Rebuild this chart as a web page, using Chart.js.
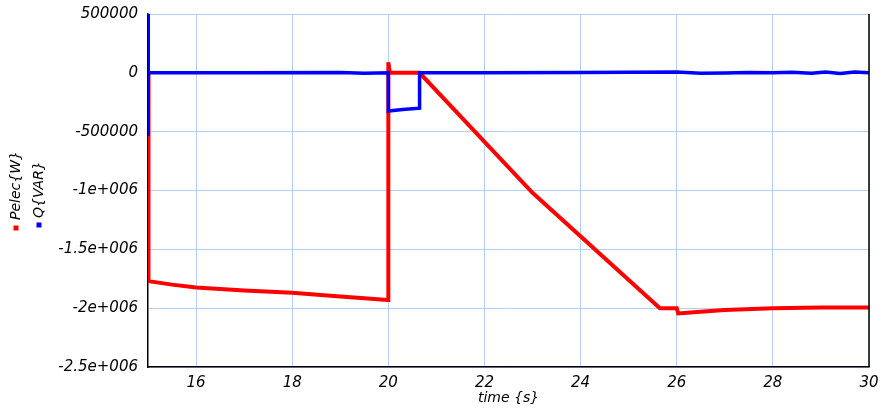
<!DOCTYPE html>
<html>
<head>
<meta charset="utf-8">
<script src="https://cdn.jsdelivr.net/npm/chart.js@4/dist/chart.umd.min.js"></script>
<style>
    html, body { margin: 0; padding: 0; background: #fff; }
    #wrap { width: 883px; height: 409px; }
</style>
</head>
<body>
<div id="wrap"><canvas id="chart"></canvas></div>
<script>
    // 数据：时间 (s) 与有功功率 Pelec{W}
    const timeP = [15, 15.01, 15.5, 16, 17, 18, 19, 19.5, 19.98, 20.0, 20.0, 20.03, 20.65, 23.0, 25.65, 26.0, 26.03, 26.5, 27, 28, 29, 30];
    const pelec = [0, -1.77e6, -1.80e6, -1.825e6, -1.85e6, -1.87e6, -1.90e6, -1.915e6, -1.93e6, -1.93e6, 90000, 0, 0, -1.02e6, -2.0e6, -2.0e6, -2.045e6, -2.03e6, -2.015e6, -2.0e6, -1.995e6, -1.995e6];

    // 数据：时间 (s) 与无功功率 Q{VAR}
    const timeQ = [15, 15, 15.01, 17, 19, 19.5, 20.0, 20.0, 20.3, 20.65, 20.65, 22, 24, 25, 26, 26.5, 27, 27.5, 28, 28.4, 28.8, 29.1, 29.4, 29.7, 30];
    const qvar = [-520000, 520000, 0, 0, 2000, -3000, 0, -325000, -312000, -300000, 0, 0, 2000, 4000, 8000, -3000, -1000, 2000, 0, 5000, -4000, 6000, -5000, 7000, 0];

    // 坐标轴刻度
    const xTicks = [16, 18, 20, 22, 24, 26, 28, 30];
    const yTicks = [500000, 0, -500000, -1000000, -1500000, -2000000, -2500000];
    const yTickLabels = ['500000', '0', '-500000', '-1e+006', '-1.5e+006', '-2e+006', '-2.5e+006'];

    const seriesNames = ['Pelec{W}', 'Q{VAR}'];
    const seriesColors = ['#ff0000', '#0000ff'];

    const GRID = '#b3d0f0';
    const FONT = 'DejaVu Sans';

    function toPoints(xs, ys) {
        return xs.map((x, i) => ({ x: x, y: ys[i] }));
    }

    // 竖排图例 + 右侧黑色边框
    const sidePlugin = {
        id: 'sideLegend',
        afterDraw(chart) {
            const ctx = chart.ctx;
            const area = chart.chartArea;
            ctx.save();
            ctx.strokeStyle = '#000';
            ctx.lineWidth = 1.5;
            ctx.beginPath();
            ctx.moveTo(area.right, area.top);
            ctx.lineTo(area.right, area.bottom);
            ctx.stroke();

            const pos = [[16, 228, 220], [39, 225, 218]];
            ctx.font = 'italic 14px "' + FONT + '"';
            ctx.textAlign = 'left';
            ctx.textBaseline = 'middle';
            seriesNames.forEach((name, i) => {
                const [x, sq, bottom] = pos[i];
                ctx.fillStyle = seriesColors[i];
                ctx.fillRect(x - 2.5, sq - 2.5, 5, 5);
                ctx.save();
                ctx.translate(x, bottom);
                ctx.rotate(-Math.PI / 2);
                ctx.fillStyle = '#000';
                ctx.fillText(name, 0, 0);
                ctx.restore();
            });
            ctx.restore();
        }
    };

    new Chart(document.getElementById('chart'), {
        type: 'line',
        data: {
            datasets: [
                {
                    label: seriesNames[1],
                    data: toPoints(timeQ, qvar),
                    borderColor: seriesColors[1],
                    borderWidth: 3.5,
                    pointRadius: 0,
                    tension: 0
                },
                {
                    label: seriesNames[0],
                    data: toPoints(timeP, pelec),
                    borderColor: seriesColors[0],
                    borderWidth: 4,
                    pointRadius: 0,
                    tension: 0
                }
            ]
        },
        options: {
            responsive: true,
            maintainAspectRatio: false,
            animation: false,
            events: [],
            layout: { padding: { top: 14, right: 14, left: 0, bottom: 0 } },
            plugins: {
                legend: { display: false },
                tooltip: { enabled: false }
            },
            scales: {
                x: {
                    type: 'linear',
                    min: 15,
                    max: 30,
                    afterBuildTicks: s => { s.ticks = xTicks.map(v => ({ value: v })); },
                    afterFit: s => { s.height = 42; s.paddingLeft = 0; s.paddingRight = 0; },
                    grid: { color: GRID, lineWidth: 1, drawTicks: false },
                    border: { color: '#000', width: 1.5 },
                    ticks: {
                        color: '#000',
                        padding: 7,
                        maxRotation: 0,
                        font: { family: FONT, size: 15, style: 'italic' }
                    },
                    title: {
                        display: true,
                        text: 'time {s}',
                        color: '#000',
                        padding: { top: 0, bottom: 2 },
                        font: { family: FONT, size: 14, style: 'italic' }
                    }
                },
                y: {
                    min: -2500000,
                    max: 500000,
                    afterBuildTicks: s => { s.ticks = yTicks.map(v => ({ value: v })); },
                    afterFit: s => { s.width = 148; s.paddingTop = 0; s.paddingBottom = 0; },
                    grid: { color: GRID, lineWidth: 1, drawTicks: false },
                    border: { color: '#000', width: 1.5 },
                    ticks: {
                        color: '#000',
                        padding: 10,
                        font: { family: FONT, size: 15, style: 'italic' },
                        callback: v => yTickLabels[yTicks.indexOf(v)]
                    }
                }
            }
        },
        plugins: [sidePlugin]
    });
</script>
</body>
</html>
